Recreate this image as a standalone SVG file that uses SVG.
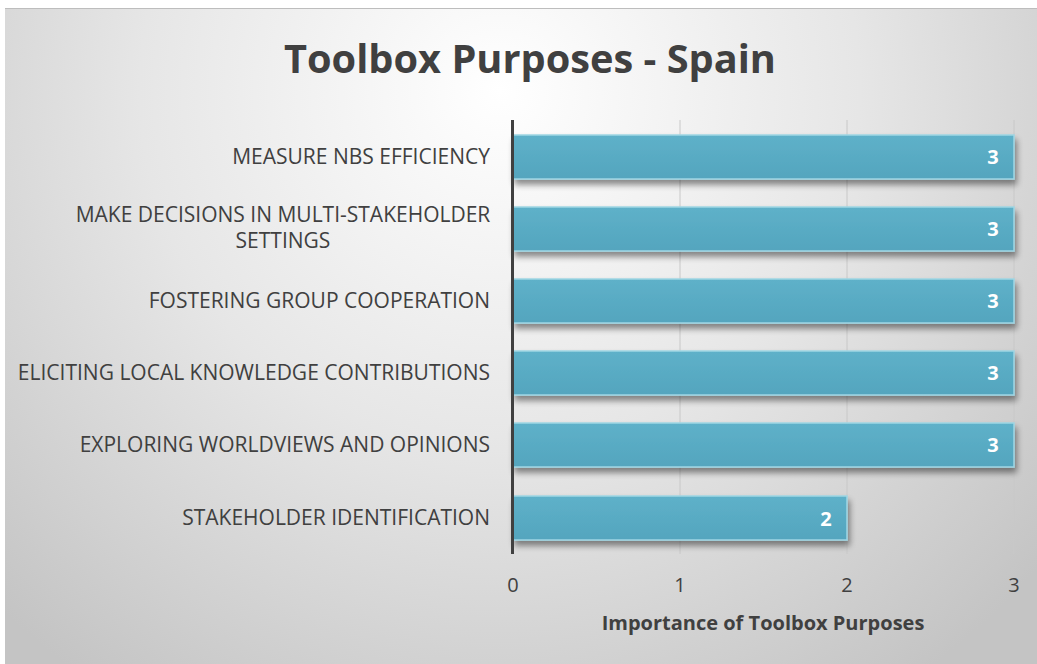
<svg xmlns="http://www.w3.org/2000/svg" width="1037" height="664" viewBox="0 0 1037 664">
<defs>
<radialGradient id="bg" cx="500" cy="90" r="720" gradientUnits="userSpaceOnUse">
<stop offset="0" stop-color="#ffffff"/>
<stop offset="0.5" stop-color="#e6e6e6"/>
<stop offset="1" stop-color="#c4c4c4"/>
</radialGradient>
<linearGradient id="barg" x1="0" y1="0" x2="0" y2="1">
<stop offset="0" stop-color="#5eb1c9"/>
<stop offset="1" stop-color="#54a5be"/>
</linearGradient>
<filter id="sh" x="-5%" y="-20%" width="110%" height="160%">
<feGaussianBlur in="SourceAlpha" stdDeviation="3"/>
<feOffset dx="2" dy="5"/>
<feComponentTransfer><feFuncA type="linear" slope="0.45"/></feComponentTransfer>
<feMerge><feMergeNode/><feMergeNode in="SourceGraphic"/></feMerge>
</filter>
</defs>
<style>
.cat{font-family:"Open Sans","Liberation Sans",sans-serif;font-size:21px;fill:#404040;text-anchor:end}
.catc{font-family:"Open Sans","Liberation Sans",sans-serif;font-size:21px;fill:#404040;text-anchor:middle}
.tick{font-family:"Open Sans","Liberation Sans",sans-serif;font-size:20px;fill:#404040;text-anchor:middle}
.val{font-family:"Open Sans","Liberation Sans",sans-serif;font-size:20px;font-weight:bold;fill:#ffffff;text-anchor:middle}
.bar{fill:url(#barg);stroke:#9fd6e4;stroke-width:1.5}
.grid{stroke:#c8c8c8;stroke-width:1}
</style>
<rect x="0" y="0" width="1037" height="664" fill="#ffffff"/>
<rect x="5" y="8" width="1032" height="656" fill="url(#bg)"/>
<line x1="5" y1="8.5" x2="1037" y2="8.5" stroke="#bdbdbd" stroke-width="1"/>
<text x="530" y="73" font-family="Open Sans, Liberation Sans, sans-serif" font-size="40" font-weight="bold" fill="#404040" text-anchor="middle" textLength="492" lengthAdjust="spacingAndGlyphs">Toolbox Purposes - Spain</text>
<g id="gridlines">
<line class="grid" x1="680" y1="120" x2="680" y2="554"/>
<line class="grid" x1="847" y1="120" x2="847" y2="554"/>
<line class="grid" x1="1014" y1="120" x2="1014" y2="554"/>
</g>
<g id="bar1"><rect class="bar" x="513" y="135" width="501" height="44" filter="url(#sh)"/><text class="val" x="993" y="164">3</text><text class="cat" x="490" y="164">MEASURE NBS EFFICIENCY</text></g>
<g id="bar2"><rect class="bar" x="513" y="207" width="501" height="44" filter="url(#sh)"/><text class="val" x="993" y="236">3</text><text class="catc" x="283" y="222">MAKE DECISIONS IN MULTI-STAKEHOLDER</text><text class="catc" x="283" y="248">SETTINGS</text></g>
<g id="bar3"><rect class="bar" x="513" y="279" width="501" height="44" filter="url(#sh)"/><text class="val" x="993" y="308">3</text><text class="cat" x="490" y="308">FOSTERING GROUP COOPERATION</text></g>
<g id="bar4"><rect class="bar" x="513" y="351" width="501" height="44" filter="url(#sh)"/><text class="val" x="993" y="380">3</text><text class="cat" x="490" y="380">ELICITING LOCAL KNOWLEDGE CONTRIBUTIONS</text></g>
<g id="bar5"><rect class="bar" x="513" y="423" width="501" height="44" filter="url(#sh)"/><text class="val" x="993" y="452">3</text><text class="cat" x="490" y="452">EXPLORING WORLDVIEWS AND OPINIONS</text></g>
<g id="bar6"><rect class="bar" x="513" y="496" width="334" height="44" filter="url(#sh)"/><text class="val" x="826" y="526">2</text><text class="cat" x="490" y="525">STAKEHOLDER IDENTIFICATION</text></g>
<g id="axis">
<line x1="512.5" y1="120" x2="512.5" y2="554" stroke="#404040" stroke-width="3"/>
<text class="tick" x="513" y="592">0</text>
<text class="tick" x="680" y="592">1</text>
<text class="tick" x="847" y="592">2</text>
<text class="tick" x="1014" y="592">3</text>
<text x="763" y="630" font-family="Open Sans, Liberation Sans, sans-serif" font-size="20" font-weight="bold" fill="#404040" text-anchor="middle">Importance of Toolbox Purposes</text>
</g>
</svg>
